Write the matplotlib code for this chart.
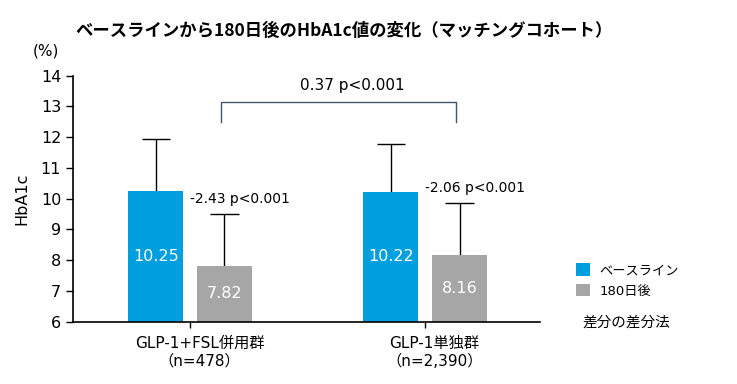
import matplotlib.pyplot as plt
import matplotlib.transforms as mtransforms
import numpy as np

plt.rcParams['font.family'] = ['DejaVu Sans', 'Noto Sans CJK JP']

# データ
groups = ['GLP-1+FSL併用群', 'GLP-1単独群']
group_n = ['（n=478）', '（n=2,390）']
baseline = [10.25, 10.22]
day180 = [7.82, 8.16]
sd_base = [1.68, 1.56]
sd_180 = [1.67, 1.69]
diff_text = ['-2.43 p<0.001', '-2.06 p<0.001']
did_text = '0.37 p<0.001'
legend_labels = ['ベースライン', '180日後']

c_blue = '#009FDF'
c_gray = '#A6A6A6'

fig = plt.figure(figsize=(7.37, 3.84), dpi=100)
ax = fig.add_axes([0.099, 0.162, 0.634, 0.641])

x = np.arange(len(groups))
w = 0.234
off = 0.146
cap = 0.06
b1 = ax.bar(x - off, baseline, w, color=c_blue, label=legend_labels[0], zorder=2)
b2 = ax.bar(x + off, day180, w, color=c_gray, label=legend_labels[1], zorder=2)

# エラーバー（上側のみ）
for xs, vals, sds in [(x - off, baseline, sd_base), (x + off, day180, sd_180)]:
    for xi, v, s in zip(xs, vals, sds):
        ax.vlines(xi, v, v + s, color='black', lw=1, zorder=1)
        ax.hlines(v + s, xi - cap, xi + cap, color='black', lw=1, zorder=1)

# バー内の数値
for i in range(len(groups)):
    ax.text(x[i] - off, (6 + baseline[i]) / 2, f'{baseline[i]:.2f}', color='white',
            ha='center', va='center', fontsize=11.5)
    ax.text(x[i] + off, (6 + day180[i]) / 2, f'{day180[i]:.2f}', color='white',
            ha='center', va='center', fontsize=11.5)
    ax.text(x[i], day180[i] + sd_180[i] + 0.5, diff_text[i], ha='left', va='center',
            fontsize=10)

# ブラケット
bx = [0.13, 0.13, 1.13, 1.13]
by = [12.49, 13.15, 13.15, 12.49]
ax.plot(bx, by, color='#44546A', lw=1, clip_on=False)
ax.text(0.69, 13.68, did_text, ha='center', va='center', fontsize=11)

ax.set_xlim(-0.498, 1.489)
ax.set_ylim(6, 14)
ax.set_yticks(range(6, 15))
ax.tick_params(axis='y', labelsize=11.5, length=5, width=1)
ax.set_xticks(x)
ax.set_xticklabels([])
ax.tick_params(axis='x', length=4, width=1)

# x軸ラベル（2行）
trans = mtransforms.blended_transform_factory(ax.transData, fig.transFigure)
for i in range(len(groups)):
    ax.text(x[i] + 0.04, 1 - 343 / 384, groups[i], transform=trans, ha='center',
            va='center', fontsize=11)
    ax.text(x[i] + 0.04, 1 - 361 / 384, group_n[i], transform=trans, ha='center',
            va='center', fontsize=11)

for s in ['top', 'right']:
    ax.spines[s].set_visible(False)
ax.spines['left'].set_linewidth(1.2)
ax.spines['bottom'].set_linewidth(1.2)
ax.set_ylabel('HbA1c', fontsize=11.5, labelpad=8)

fig.text(0.045, 0.855, '(%)', fontsize=11)
fig.text(0.102, 0.92, 'ベースラインから180日後のHbA1c値の変化（マッチングコホート）',
         fontsize=12.5, fontweight='bold', family=['Noto Sans CJK JP'], va='center')

fig.legend(handles=[b1, b2], loc='upper left', bbox_to_anchor=(0.765, 0.345),
           frameon=False, fontsize=9.5, handlelength=1.1, handleheight=1.1,
           labelspacing=0.5, handletextpad=0.7)
fig.text(0.79, 0.16, '差分の差分法', fontsize=10.5, va='center')

fig.savefig('out.png', dpi=100)
